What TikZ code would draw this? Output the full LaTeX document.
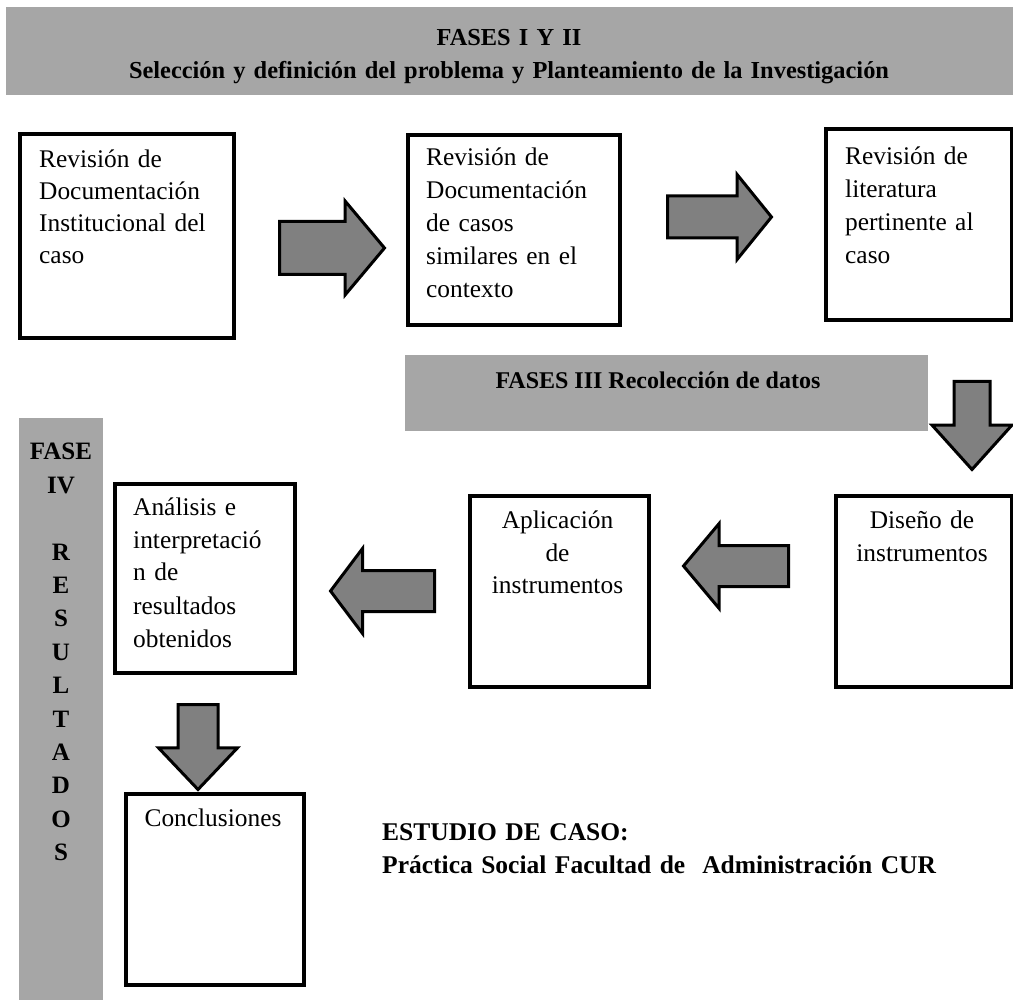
\documentclass[tikz,border=0pt]{standalone}
\usepackage{fontspec}
\setmainfont{Liberation Serif}
\usetikzlibrary{shapes.arrows}
\definecolor{bannergray}{RGB}{166,166,166}
\definecolor{arrowgray}{RGB}{128,128,128}
\begin{document}
\begin{tikzpicture}[x=1pt,y=-1pt,
  banner/.style={fill=bannergray, draw=none, inner sep=0pt, anchor=north west},
  stepbox/.style={draw=black, line width=4pt, fill=white, inner sep=0pt, anchor=north west},
  bodytext/.style={inner sep=0pt, font=\fontsize{25.4}{33}\selectfont, text width=#1},
  headtext/.style={inner sep=0pt, font=\bfseries\fontsize{24.4}{33}\selectfont},
  blockarrow/.style={single arrow, draw=black, line width=3pt, fill=arrowgray, inner xsep=0pt, anchor=tail}
]
\useasboundingbox (0,0) rectangle (1013,1000);

% banners
\node[banner, minimum width=1007, minimum height=88] (topbanner) at (6,7) {};
\node[headtext, text width=900, align=center, anchor=base] (toptitle) at (509,46)
  {FASES I Y II\\Selección y definición del problema y Planteamiento de la Investigación};

\node[banner, minimum width=523, minimum height=76] (midbanner) at (405,355) {};
\node[headtext, font=\bfseries\fontsize{24}{33}\selectfont, anchor=base] (midtitle) at (658,389) {FASES III Recolección de datos};

\node[banner, minimum width=84, minimum height=582] (sidebar) at (19,418) {};
\node[inner sep=0pt, font=\bfseries\fontsize{25}{33.4}\selectfont, text width=84, align=center, anchor=base] (sidetitle) at (61,460)
  {FASE\\IV\\[33.4pt]R\\E\\S\\U\\L\\T\\A\\D\\O\\S};

% boxes
\node[stepbox, minimum width=214, minimum height=204] (b1) at (18,132) {};
\node[bodytext=190, align=left, anchor=base west, font=\fontsize{25.4}{32}\selectfont] (t1) at (39,168)
  {Revisión de\\Documentación\\Institucional del\\caso};

\node[stepbox, minimum width=212, minimum height=190] (b2) at (406,133) {};
\node[bodytext=190, align=left, anchor=base west] (t2) at (426,166)
  {Revisión de\\Documentación\\de casos\\similares en el\\contexto};

\node[stepbox, minimum width=186, minimum height=191] (b3) at (824,127) {};
\node[bodytext=165, align=left, anchor=base west] (t3) at (845,165)
  {Revisión de\\literatura\\pertinente al\\caso};

\node[stepbox, minimum width=176, minimum height=191] (b4) at (834,494) {};
\node[bodytext=170, align=center, anchor=base] (t4) at (922,528)
  {Diseño de\\instrumentos};

\node[stepbox, minimum width=179, minimum height=191] (b5) at (468,494) {};
\node[bodytext=170, align=center, anchor=base] (t5) at (557.5,528)
  {Aplicación\\de\\instrumentos};

\node[stepbox, minimum width=180, minimum height=189] (b6) at (113,482) {};
\node[bodytext=160, align=left, anchor=base west] (t6) at (133,515)
  {Análisis e\\interpretació\\n de\\resultados\\obtenidos};

\node[stepbox, minimum width=178, minimum height=191] (b7) at (124,792) {};
\node[bodytext=170, align=center, anchor=base] (t7) at (213,826) {Conclusiones};

% block arrows (shaft width = 2 x inner ysep)
\node[blockarrow, inner ysep=25, minimum height=105, single arrow head extend=20.5, single arrow tip angle=100] (a1) at (278,248) {};
\node[blockarrow, inner ysep=19.5, minimum height=104, single arrow head extend=21.5, single arrow tip angle=102] (a2) at (666,217) {};
\node[blockarrow, rotate=-90, inner ysep=16.5, minimum height=88, single arrow head extend=22, single arrow tip angle=84] (a3) at (972,380) {};
\node[blockarrow, rotate=180, inner ysep=19, minimum height=105, single arrow head extend=22, single arrow tip angle=100] (a4) at (790,566) {};
\node[blockarrow, rotate=180, inner ysep=19, minimum height=104, single arrow head extend=22, single arrow tip angle=106] (a5) at (436,591) {};
\node[blockarrow, rotate=-90, inner ysep=18.5, minimum height=85, single arrow head extend=19.5, single arrow tip angle=87] (a6) at (198,703) {};

% case study label
\node[headtext, font=\bfseries\fontsize{25.5}{33}\selectfont, text width=620, align=left, anchor=base west] (study) at (382,840)
  {ESTUDIO DE CASO:\\Práctica Social Facultad de~ Administración CUR};
\end{tikzpicture}
\end{document}
